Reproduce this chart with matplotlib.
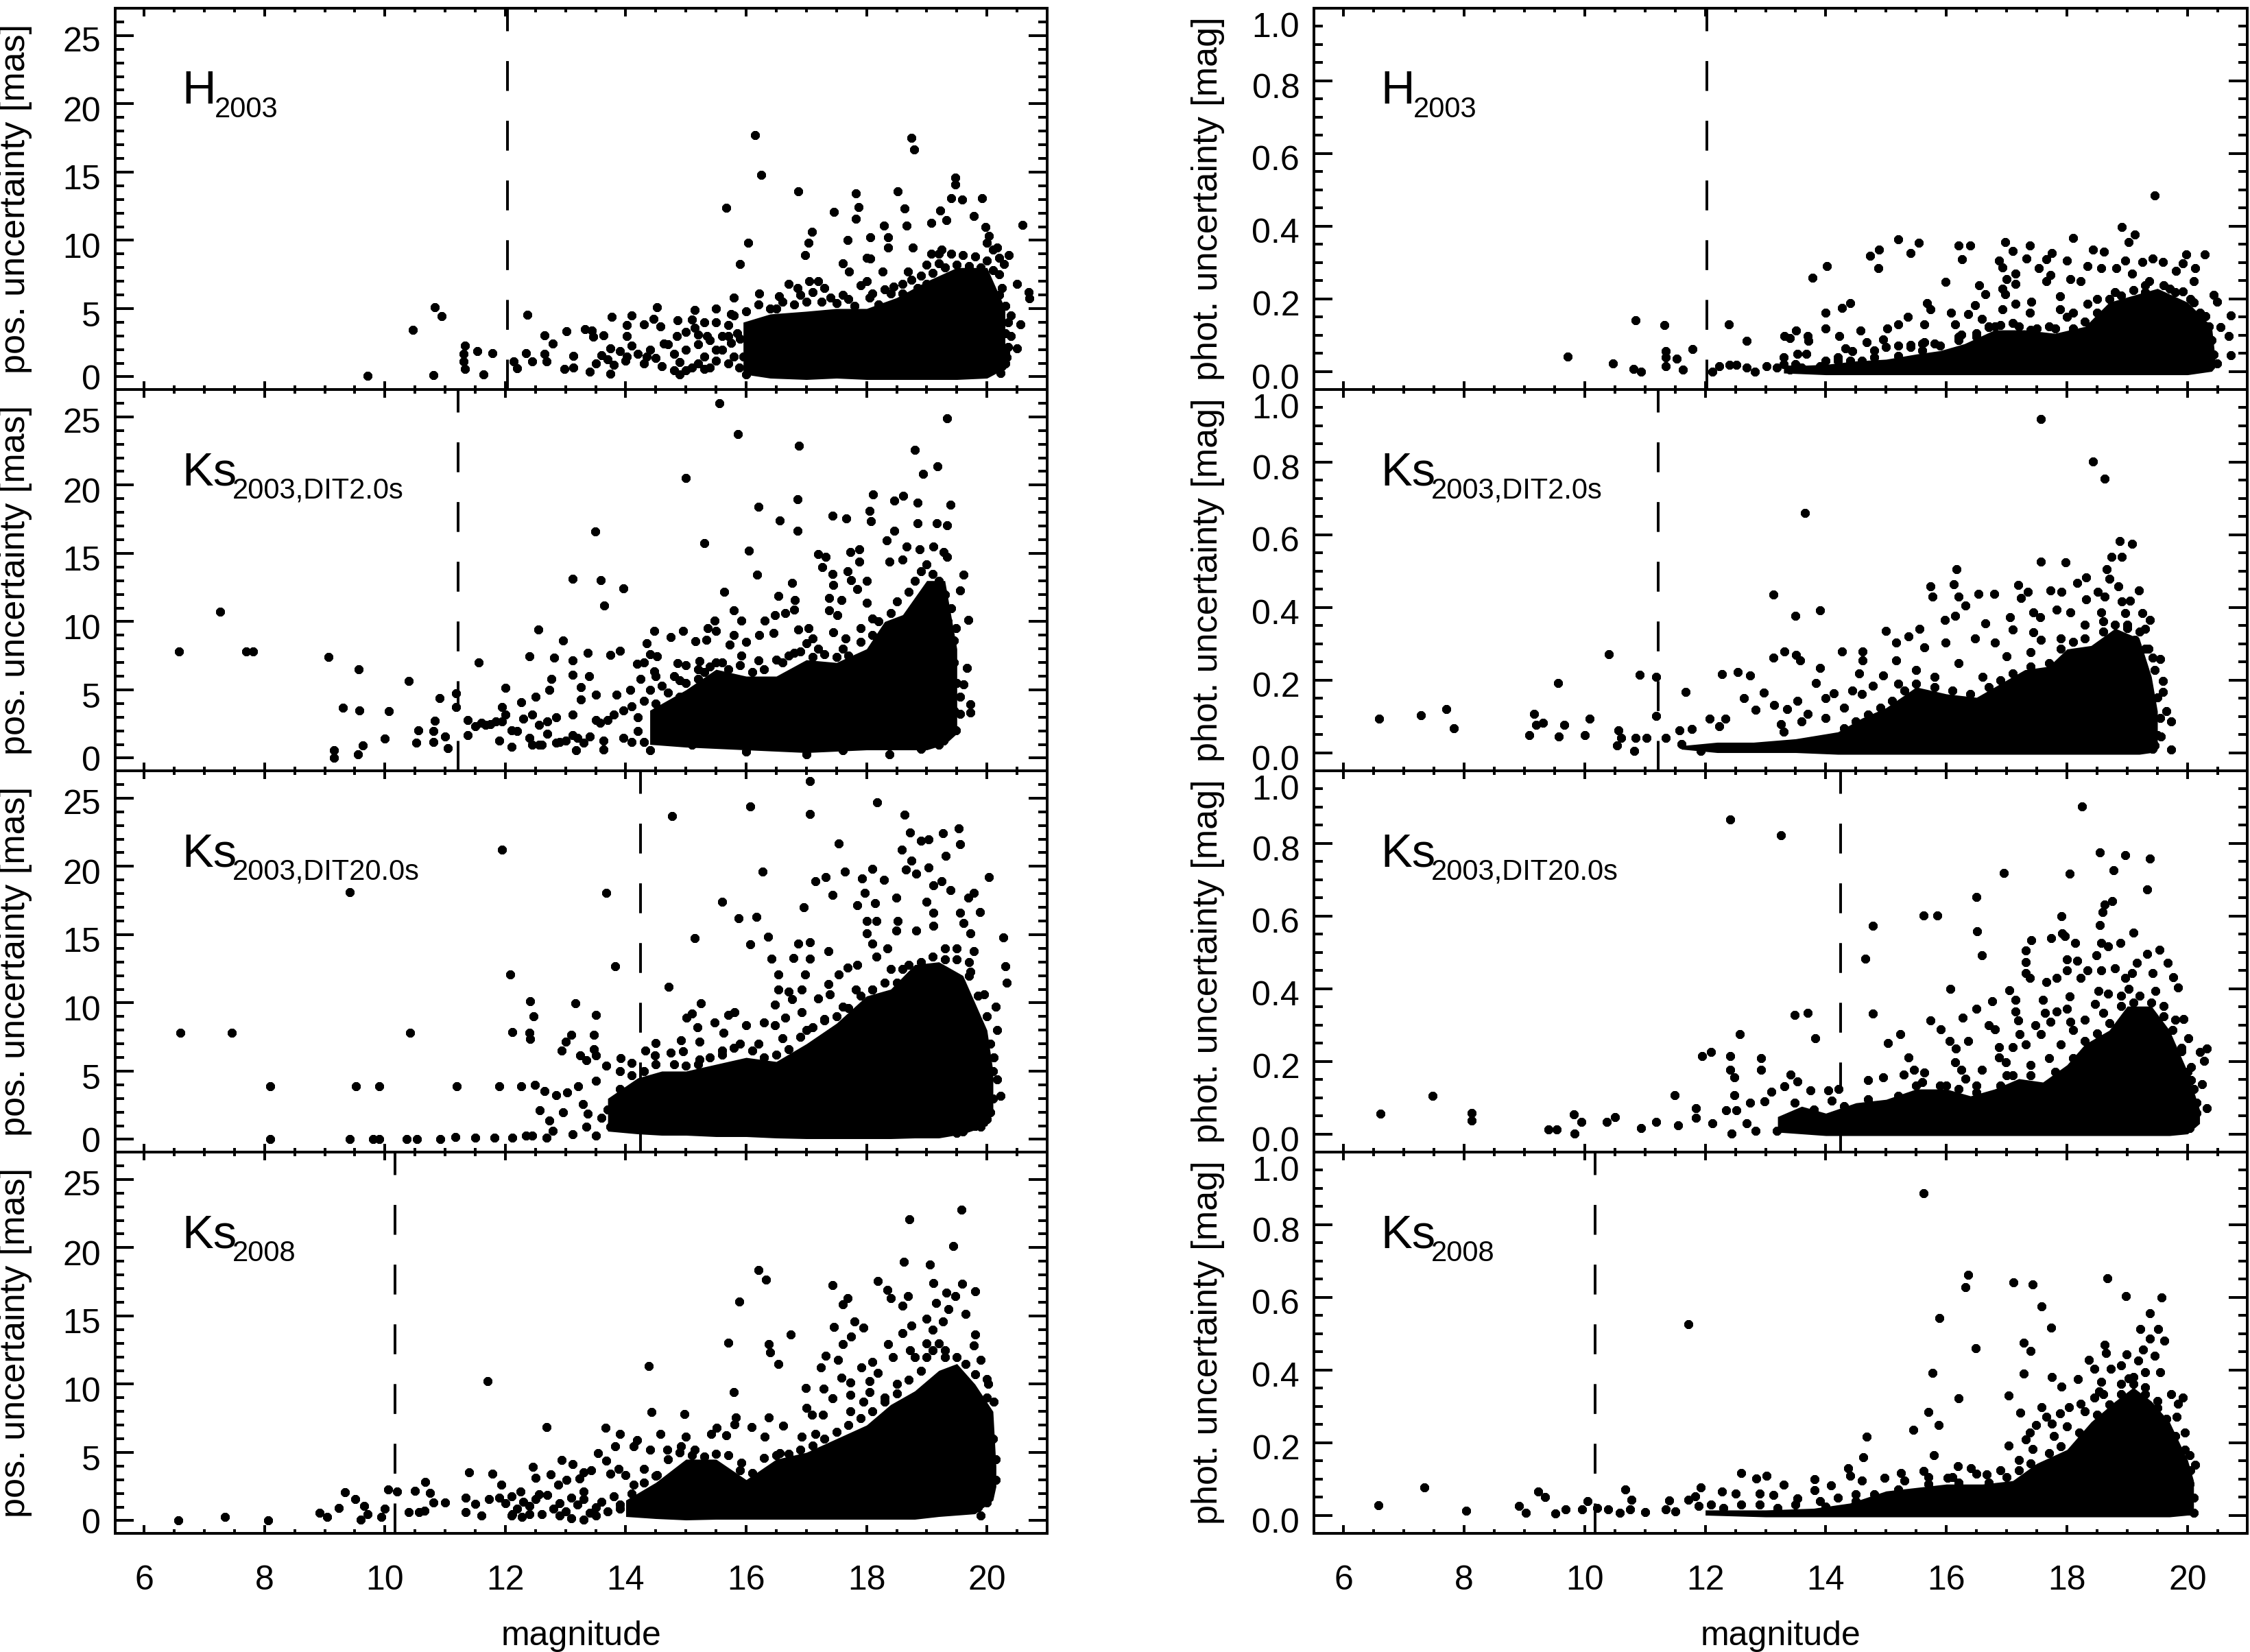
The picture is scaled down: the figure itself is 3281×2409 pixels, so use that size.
import matplotlib
matplotlib.use("Agg")
import matplotlib.pyplot as plt
from matplotlib.ticker import MultipleLocator
from matplotlib.transforms import ScaledTranslation

plt.rcParams['font.family'] = ['Liberation Sans', 'DejaVu Sans']

# Individually readable stars: (magnitude, uncertainty)
h_pos = [(9.71,.07),(10.46,3.45),(10.83,5.08),(10.94,4.46),(10.81,.15),(11.33,2.28),(11.31,1.7),(11.31,1.15),(11.33,.6),(11.53,1.87),(11.64,.17),(11.79,1.75),(12.14,1.15),(12.2,.63),(12.37,4.55),(12.34,1.75),(12.45,1.15),(12.65,1.7),(12.68,1.15),(12.65,3.06),(12.79,2.46),(13.02,3.36),(12.98,.6),(13.13,1.53),(13.13,.69),(13.32,3.49),(13.44,3.4),(13.46,2.93),(13.63,3.02),(13.77,4.37),(14.1,4.52),(13.4,.4),(13.74,.22),(13.74,2.1),(14.02,3.0),(14.02,3.77),(14.3,3.86),(14.52,5.1),(14.46,4.24),(14.58,3.68),(14.35,1.5),(14.02,1.5),(14.63,2.46),(14.9,.2),(14.86,4.15),(15.14,4.9),(15.14,3.6),(15.5,5),(15.75,4.6),(15.8,5.8),(16.22,6.1),(15.67,12.4),(15.9,8.25),(16.03,9.84),(16.15,17.7),(16.25,14.8),(16.86,13.6),(16.98,8.94),(17.04,9.84),(17.09,10.6),(17.46,12.1),(17.69,10.0),(17.6,8.3),(17.71,7.7),(17.82,13.45),(17.87,12.45),(17.82,11.6),(18.0,8.7),(18.06,8.66),(18.06,10.2),(18.29,11.1),(18.36,10.2),(18.36,9.46),(18.27,7.7),(18.52,13.6),(18.63,12.35),(18.67,11.1),(18.69,7.7),(18.74,17.5),(18.79,16.65),(18.77,9.46),(19.08,11.28),(19.22,12.17),(19.33,11.5),(19.07,9),(19.25,9.3),(19.41,13.07),(19.47,14.6),(19.47,14.1),(19.59,13),(19.78,11.8),(19.92,13.1),(19.97,10.96),(20.03,10.3),(20.0,9.84),(20.17,9.46),(20.59,11.15),(20.69,6.2),(20.7,5.73),(20.5,6.8),(20.36,8.9),(20.28,8.25),(20.56,3.86),(20.5,2.1),(20.33,1.44),(20.22,.3),
(13.5,1.0),(13.6,1.6),(13.7,1.3),(13.8,.9),(13.9,1.9),(14,1.2),(14.1,2.3),(14.2,1.7),(14.3,1.0),(14.4,2.0),(14.5,1.4),(14.6,.8),(14.7,2.4),(14.8,1.7),(14.9,1.1),(15,2.0),(15.1,.7),(15.2,2.4),(15.3,1.5),(15.4,.7),(15.5,1.2),(15.6,2),(15.6,3),(15.7,3.8),(15.7,1),(15.75,2.5),(15.8,4.5),(15.8,1.5),(15.85,3.2),(15.2,3.1),(15.3,4),(15.35,3),(15.4,2.7),(15.5,4),(15.1,4.2),(15.0,3.3),(14.85,3.0),
(16.4,5),(16.6,5.5),(16.7,6.8),(16.85,6.5),(16.9,6),(17.05,7),(17.2,7.0),(17.3,6.5),(17.4,5.8),(17.7,5.7),(17.9,6.7),(18.0,7),(18.1,6.1),(18.3,6.4),(18.45,6.6),(18.6,6.8),(18.75,7.1),(18.9,7.4),(19,8.2),(19.2,9),(19.3,8),(19.4,9),(19.6,8.9),(19.8,8.8),(20.0,8.5),(20.1,9.3),(20.2,8.7),(20.2,7.5),(20.25,6.5),(20.4,4.5),(20.4,3),(20.35,2.2),(20.3,1),
(15.2,1),(15.5,2),(15.7,3),(16,4.8),(16.2,5.3),(16.5,5),(16.55,5.9),(16.8,5.3),(17,5.5),(17.1,6.2),(17.25,5.5),(17.5,5.4),(17.6,6),(17.8,5.2),(18.05,5.8),(18.2,5.3),(18.4,6.1),(18.6,6.1),(18.85,6.5),(19,6.8),(19.1,7.6),(19.2,8.3),(19.35,7.2),(19.5,8.2),(19.7,8.1),(19.9,8),(20.1,7.8),(20.2,6),(20.3,5.2),(20.35,4),(20.3,3.2),(20.3,1.8),(20.25,.8),(15.95,1.5),(15.9,2.8),(15.88,.7),(16,.2),(14.8,.5),(15,.5),(15.3,.6)]

ks2_pos = [(6.58,7.8),(7.26,10.73),(7.7,7.8),(7.81,7.8),(9.06,7.43),(9.56,6.5),(10.4,5.67),(9.3,3.7),(9.57,3.5),(10.07,3.45),(9.15,.56),(9.15,.04),(9.55,.28),(9.63,.93),(10,1.44),(10.52,1.12),(10.56,2.05),(10.83,2.76),(10.8,1.96),(10.8,1.2),(11,1.6),(11.05,.75),(10.91,4.38),(11.18,4.76),(11.18,3.73),(11.37,1.68),(11.37,2.8),(11.56,7),(11.5,2.33),(11.67,2.43),(11.84,2.7),(12,5.13),(12.4,7.46),(12.55,9.42),(12.96,8.62),(12.81,7.37),(13.12,7.18),(13.12,13.15),(13.37,7.69),(13.49,16.6),(13.58,13.06),(13.64,11.19),(13.96,12.44),(13.74,7.55),(13.9,7.87),(13.12,6.1),(13.39,6),(12.76,5.78),(12.73,5),(11.95,3.73),(12.26,4.1),(12.5,4.48),(13.26,5.22),(13.5,4.66),(13.26,4.3),(12,3.17),(12.1,2.05),(11.9,1.3),(12.1,.84),(12.45,3.17),(12.56,2.43),(12.56,1),(12.84,3),(12.7,1.77),(12.84,1.12),(13.18,.56),(13.12,1.68),(13.3,1.12),(13.12,3.17),(13.57,2.6),(13.63,1.3),(13.63,.65),(13.96,1.5),(13.96,3.5),(13.85,4.66),(14.07,5),(14.19,6.9),(14.35,8.4),(14.47,9.33),(14.52,7.46),(14.24,5.78),(14.47,6.34),(14.41,.56),(14.75,8.86),(14.86,6.94),(14.95,9.33),(14.9,5.7),(15.16,8.58),(15.23,7.1),(15.34,8.68),(15.36,9.5),(15.48,10.07),(15.5,9.33),(15,20.5),(15.3,15.77),(15.55,26),(15.63,12.16),(15.79,10.82),(15.92,10.07),(15.86,23.73),(16.05,15.17),(16.18,13.43),(16.21,18.41),(16.56,17.4),(16.54,11.9),(16.76,12.84),(16.81,11.57),(16.88,22.9),(16.85,18.97),(16.85,16.64),(16.31,10.07),(16.48,10.45),(16.65,10.6),(16.8,10.9),(15.79,9),(15.73,8.3),(16,8.5),(16.22,9),(16.45,9.18),(15.92,7.5),(16.2,7.18),(16.87,9.42),(17.04,9.5),(17.1,8.77),(17,8.4),(17.2,14.93),(17.32,14.74),(17.26,14),(17.43,13.5),(17.45,12.7),(17.44,17.76),(17.66,17.54),(17.38,11.75),(17.38,10.8),(17.58,11.57),(17.52,10.45),(17.73,15.1),(17.88,15.3),(17.88,14.37),(17.69,13.7),(17.74,13.06),(17.85,12.4),(18,13),(18,11.4),(17.45,9.23),(17.65,8.77),(18.05,18.1),(18.07,17.35),(18.11,19.3),(18.34,15.95),(18.46,16.64),(18.46,18.88),(18.61,19.2),(18.8,22.6),(18.85,18.7),(18.85,17.2),(18.94,20.8),(19.18,21.36),(19.34,24.87),(19.17,17.2),(19.34,17.07),(19.39,18.56),(18.66,15.48),(18.38,14.37),(18.6,14.55),(18.88,15.3),(19.11,15.5),(19.28,15.1),(19.34,14.74),(19.61,13.43),(19.55,12.3),(19.41,11),(19.69,10.1),(19.48,9.5),(19.45,8.6),(19.67,6.6),(19.61,5.4),(19.55,4.5),(19.72,3.92),(19.72,3.36),(19.55,3.26),(19.48,2.05),(19.28,1.3),(18.38,.28),(17.6,.56),
(11.6,2.6),(11.75,2.5),(11.95,2.7),(12.2,2),(12.3,2.9),(12.4,1.5),(12.45,1),(12.6,1),(12.7,2.7),(12.9,1.2),(13,1.3),(13.2,1.5),(13.4,1.6),(13.5,2.8),(13.7,2.8),(13.8,3.2),(14.1,1.2),(14.2,2),(14.3,1.2),(14.1,3.8),(14.2,3),(14.3,4.2),(14.4,5),(14.5,6),(14.6,5.3),(14.7,4.8),(14.8,6),(14.3,7),(14.4,7.6),(15,6.8),(15.2,6.5),(15.6,7),(16.6,7),(16.8,7.7),(17.2,8),(17.6,8),(17.9,9.5),(18.1,10.2),
(14.5,4),(14.6,2.5),(14.7,1.3),(14.8,3.2),(14.9,4.5),(15,5.5),(15.1,1),(15.2,5.8),(15.3,6.3),(15.4,6.7),(15.5,7),(15.7,6.5),(15.9,6.8),(16.1,6.3),(16.3,6.5),(16.5,7.2),(16.7,7.5),(16.9,7.8),(17.1,7.4),(17.3,7.6),(17.5,7.4),(17.7,7.5),(17.9,8.5),(18.1,9),(18.2,10),(18.4,10.6),(18.5,11.5),(18.7,12.2),(18.8,13),(18.9,13.7),(19,14.2),(19.1,13.5),(19.2,13),(19.3,12),(19.35,10),(19.45,7),(19.5,5.5),(19.45,3.5),(19.4,2),(19.2,1),(18.9,.7),(17,.3),(16,.5)]

ks20_pos = [(6.6,7.82),(7.46,7.82),(8.1,3.9),(8.09,0),(9.42,18.1),(9.52,3.9),(9.42,0),(9.8,0),(9.91,0),(9.91,3.9),(10.36,0),(10.53,0),(10.42,7.82),(10.92,0),(11.17,.18),(11.19,3.87),(11.5,.1),(11.82,.1),(11.9,3.9),(11.95,21.2),(12.08,12.1),(12.12,7.88),(12.26,3.87),(12.12,.15),(12.34,.28),(12.45,.28),(12.4,7.82),(12.41,7.36),(12.41,10.1),(12.47,9),(12.49,4),(12.57,2.14),(12.68,.1),(12.65,3.54),(12.73,1.4),(12.84,3.26),(12.93,6.52),(13,7.17),(13.1,7.64),(13.16,9.97),(13.03,3.45),(12.96,1.96),(12.79,.65),(13.12,.37),(13.29,2.6),(13.21,3.9),(13.24,6.15),(13.35,5.78),(13.51,6.15),(13.47,7.64),(13.5,9.13),(13.47,6.6),(13.68,18.07),(13.82,12.67),(13.51,.28),(13.74,.93),(13.51,4.28),(13.68,5.4),(13.92,5.96),(13.9,5),(14.1,5.6),(13.37,1.86),(13.35,.93),(14.33,6.5),(14.5,7.08),(14.49,6.15),(14.75,6.33),(14.95,6.43),(14.92,7.27),(14.71,11.18),(14.77,23.66),(15.15,14.72),(15.01,8.94),(15.1,9.22),(15.25,9.97),(15.19,8.2),(15.23,7.17),(15.23,5.87),(15.47,8.57),(15.6,17.42),(15.62,7.82),(15.7,9.13),(15.81,9.3),(15.87,16.2),(16,8.38),(16.07,24.37),(16.07,14.3),(16.17,16.3),(16.27,19.6),(16.36,14.85),(16.29,8.57),(16.42,13.22),(16.48,9.87),(16.54,12.1),(16.54,11),(16.7,10.8),(16.65,8.94),(16.48,8.38),(16.87,14.34),(16.79,13.3),(16.96,17),(17.06,26.27),(17.06,23.84),(17.06,14.44),(17.06,13.22),(16.98,12.1),(16.92,11),(16.76,10.25),(16.92,9.3),(17.15,18.9),(17.32,19.2),(17.2,10.34),(17.39,10.6),(17.37,11.36),(17.37,13.8),(17.43,17.9),(17.54,21.7),(17.64,19.6),(17.54,12.1),(17.69,12.57),(17.84,12.76),(17.82,11),(17.6,9.7),(17.84,17.14),(17.93,19.1),(17.97,18.07),(18,16),(18,15.1),(18.1,14.34),(18.16,16),(18.14,17.32),(18.09,19.84),(18.16,13.4),(18.18,24.7),(18.29,19),(18.35,14),(18.52,16),(18.49,17.7),(18.58,21.24),(18.49,15.28),(18.63,23.8),(18.65,19.75),(18.72,22.5),(18.74,20.4),(18.83,19.47),(18.9,21.9),(19,17.4),(19.03,22),(19.03,19.9),(19.11,18.6),(18.83,15.28),(19.11,15.65),(19.11,16.58),(19.27,22.45),(19.25,18.9),(19.31,20.77),(19.39,18.25),(19.53,22.76),(19.55,21.6),(19.55,16.58),(19.61,15.84),(19.78,18.07),(19.69,17.7),(19.88,16.67),(19.72,15.1),(19.78,13.8),(19.72,12.3),(19.95,10.6),(20.03,19.2),(20.27,14.8),(20.3,12.67),(20.33,11.46),(20.15,9.7),(20.17,8),(20.11,6),(20.17,4.4),(20.22,3.17),(20.06,1.96),(19.89,.93),(19.5,.47),
(15.6,6.5),(15.9,7),(16.2,7),(16.6,7.4),(17,8),(17.3,8.7),(17.7,8.8),(18.1,11),(18.4,12.5),(18.6,12.5),(19.3,14),(19.5,14),(19.7,13),
(13.6,1.6),(13.7,2.2),(13.9,3.7),(14.1,4.7),(14.3,5),(14.5,5.5),(14.8,5.5),(15,5.4),(15.2,5.5),(15.4,6),(15.6,6.2),(15.8,6.7),(16.1,6.5),(16.3,6),(16.5,6.2),(16.7,6.6),(16.9,7.5),(17.1,8.2),(17.3,8.8),(17.5,9),(17.7,9.6),(17.9,10.5),(18.1,11),(18.3,11.5),(18.5,11.5),(18.7,12.8),(18.9,13),(19.1,13.4),(19.3,13.2),(19.5,13.2),(19.7,12),(19.85,10.5),(20,9),(20.05,7),(20.1,5),(20.1,3),(20,1.5),(19.8,1),(19.6,.6)]

ks08_pos = [(6.57,0),(7.34,.28),(8.06,0),(8.92,.56),(9.04,.28),(9.23,.94),(9.34,2.1),(9.51,1.57),(9.66,1.1),(9.6,.05),(9.71,.5),(9.94,.28),(10,.87),(10.05,2.27),(10.2,2.15),(10.4,.63),(10.5,2.2),(10.57,.63),(10.66,.75),(10.67,2.86),(10.75,2.04),(10.8,1.33),(11,1.33),(11.34,1.69),(11.34,.63),(11.4,3.56),(11.5,1.22),(11.6,.4),(11.71,10.2),(11.78,3.44),(11.73,1.57),(11.93,2.62),(12.12,.5),(12.25,2.15),(12.28,.28),(12.46,3.96),(12.5,3.14),(12.56,1.92),(12.69,6.84),(12.75,3.37),(12.93,4.43),(12.88,2.62),(13.02,3),(13.12,4.15),(13.23,3.1),(13.3,3.56),(13.43,3.68),(13.3,2.15),(13.3,.05),(13.1,.16),(13.54,4.96),(13.67,6.8),(13.68,4.38),(13.74,3.44),(13.82,5.43),(13.9,6.37),(13.88,3.8),(14,3.33),(14.13,5.43),(14.19,5.9),(14.38,11.33),(14.43,7.96),(14.41,5.2),(14.58,6.37),(14.3,3.8),(14.52,3.33),(14.13,2.62),(14.97,7.82),(15,6.14),(14.69,5.2),(14.92,5.43),(15.14,5.2),(15.42,6.37),(15.51,6.8),(15.67,6.25),(15.7,13.04),(15.8,9.41),(15.89,16.04),(15.83,7.54),(15.81,7.07),(16.09,6.84),(15.92,4.26),(16.2,18.38),(16.33,17.68),(16.37,12.93),(16.4,12.34),(16.38,7.54),(16.31,6.14),(16.54,11.47),(16.62,6.96),(16.56,4.96),(16.74,13.63),(16.92,6.14),(16.99,9.7),(17,8.24),(17.09,7.78),(17.15,6.37),(17.24,11.22),(17.32,12.06),(17.29,9.65),(17.27,7.78),(17.43,8.95),(17.44,17.26),(17.46,14.2),(17.53,11.8),(17.6,15.85),(17.68,16.32),(17.61,12.93),(17.74,13.5),(17.8,14.57),(17.95,14.15),(17.58,10.47),(17.73,10.1),(17.73,9.2),(17.73,8),(17.91,11.24),(17.95,8.7),(18.1,11.64),(18.05,10.23),(18.05,9.4),(18.19,17.54),(18.19,10.8),(18.35,16.9),(18.4,16.3),(18.36,12.93),(18.44,12),(18.6,15.73),(18.6,13.75),(18.62,18.97),(18.71,22.06),(18.69,16.44),(18.75,14.29),(18.72,12.46),(19.05,18.78),(19.11,17.42),(19.16,15.97),(19.33,16.72),(19.44,20.14),(19.47,16.44),(19.58,22.8),(19.59,17.38),(19.8,16.79),(19.64,15.15),(19.36,15.5),(19.27,14.57),(19,14.8),(19.8,13.63),(19.78,12.81),(19.89,11.76),(20,10.35),(20.02,10),(20.11,8.71),(20.15,4.5),(20.06,2.62),(20,1.33),(19.89,.4),
(11.9,1.7),(12,1.3),(12.1,1.8),(12.2,.9),(12.3,1.4),(12.4,1.1),(12.5,1.6),(12.6,.5),(12.7,1.9),(12.8,.9),(12.9,1.3),(13,.7),(13.1,1.7),(13.2,1.2),(13.3,1.6),(13.4,.6),(13.5,1),(13.6,1.4),(13.7,.7),(13.8,1.8),(13.9,.9),(12.1,.4),(12.4,.5),(12.9,.4),(13.5,.4),(18.8,12),(19,13),(19.1,14),(19.2,13),(18.5,10),(18.3,9),(19.3,12.5),
(13.9,1.2),(14.1,2),(14.3,2.8),(14.5,3.3),(14.7,4.5),(14.9,5),(15.1,4.8),(15.3,4.7),(15.5,4.9),(15.7,4.8),(15.9,3.7),(16.1,3.5),(16.3,4.6),(16.5,4.8),(16.7,4.9),(16.9,5.2),(17.1,5.5),(17.3,6),(17.5,6.5),(17.7,7),(17.9,7.5),(18.1,8),(18.3,8.7),(18.5,9.3),(18.7,10.3),(18.9,11),(19,12),(19.1,12.5),(19.3,12),(19.5,12),(19.65,11.5),(19.8,10.7),(20,9),(20.1,6),(20.15,3),(20,2),(19.85,1)]

# Photometric readings were taken against a provisional vertical scale;
# PHOT_READING_CAL turns them into magnitudes on the real axis (0.2 mag = 286 zoomed px, not 272).
PHOT_READING_CAL = 0.951

h_phot = [(9.72,.042),(10.47,.022),(10.81,.007),(10.93,0),(10.84,.147),(11.32,.135),(11.34,.059),(11.34,.04),(11.34,.015),(11.53,.037),(11.63,.005),(11.79,.064),(12.39,.136),(12.69,.088),(12.12,0),(12.23,.015),(12.4,.018),(12.52,.018),(12.69,.011),(12.82,0),(13.02,.015),(13.19,.011),(13.31,.103),(13.4,.096),(13.51,.118),(13.7,.103),(13.71,.088),(13.53,.051),(13.68,.051),(13.78,.272),(14.02,.305),(13.99,.125),(13.99,.169),(14.22,.103),(14.27,.184),(14.41,.198),(14.33,.066),(14.44,.059),(14.57,.118),(14.68,.085),(14.73,.335),(14.88,.353),(14.87,.299),(15.02,.125),(14.95,.092),(15.2,.382),(15.4,.343),(15.54,.373),(15.2,.136),(15.36,.158),(15.63,.136),(15.68,.198),(15.74,.18),(15.4,.077),(15.63,.085),(15.98,.26),(16.08,.169),(16.14,.136),(16.2,.364),(16.4,.364),(16.26,.325),(16.54,.25),(16.64,.224),(16.48,.191),(16.36,.165),(16.25,.107),(16.59,.151),(16.7,.129),(16.98,.375),(17.1,.349),(17.38,.364),(17.33,.327),(16.87,.32),(16.93,.301),(17.15,.283),(17,.268),(16.93,.239),(16.98,.224),(17.15,.254),(16.93,.18),(17.15,.195),(17.41,.202),(17.38,.169),(17.53,.298),(17.75,.342),(17.66,.324),(17.72,.279),(17.66,.261),(17.89,.217),(18,.32),(18.06,.268),(18.23,.261),(18.1,.387),(18.43,.353),(18.61,.346),(18.34,.305),(18.57,.298),(17.89,.18),(18,.158),(18.34,.195),(18.91,.419),(19.02,.375),(19.13,.397),(18.82,.298),(18.97,.32),(19.25,.316),(19.42,.327),(19.59,.316),(19.46,.509),(19.81,.29),(19.98,.338),(20.29,.338),(20.13,.298),(19.92,.312),(20.1,.261),(19.92,.232),(19.36,.261),(19.08,.283),(20.43,.221),(20.49,.202),(20.72,.162),(20.55,.129),(20.68,.103),(20.72,.046),(20.43,.048),(20.49,.022),
(13.3,.02),(13.4,.005),(13.5,.02),(13.6,.01),(13.8,.005),(13.9,.015),(14.0,.03),(14.2,.04),(14.4,.03),(14.8,.06),(15,.07),(15.2,.075),(15.4,.07),(15.6,.08),(15.8,.08),(14.6,.03),(13.3,.04),(16.2,.1),(16.5,.11),(16.8,.13),(17.1,.14),(17.4,.12),(17.7,.13),(18.1,.17),(18.5,.21),(18.8,.23),(19.3,.23),(19.7,.24),(20.1,.2),(20.3,.16),
(14.2,.03),(14.8,.04),(15.2,.045),(15.6,.06),(15.9,.075),(16.2,.09),(16.5,.1),(16.7,.13),(16.9,.135),(17.2,.13),(17.5,.125),(17.8,.125),(18.1,.125),(18.3,.145),(18.5,.17),(18.7,.21),(18.9,.22),(19.1,.235),(19.3,.25),(19.6,.25),(19.8,.23),(20.05,.21),(20.2,.17),(20.35,.13),(20.4,.09),(20.35,.05),(20.3,.02)]

ks2_phot = [(6.59,.098),(7.28,.109),(7.71,.127),(7.83,.07),(9.08,.05),(9.16,.113),(9.2,.08),(9.31,.087),(9.56,.201),(9.66,.08),(9.57,.046),(10,.05),(10.08,.098),(10.4,.286),(10.56,.065),(10.54,.02),(10.6,.043),(10.82,.006),(10.84,.043),(11.03,.043),(10.91,.225),(11.18,.219),(11.19,.107),(11.35,.043),(11.57,.065),(11.68,.175),(11.61,.024),(11.78,.068),(11.92,.006),(12.07,.099),(12.28,.227),(12.54,.234),(12.74,.223),(12.34,.098),(12.64,.158),(12.97,.173),(12.83,.124),(12.23,.076),(13.13,.457),(13.13,.275),(13.31,.293),(13.51,.284),(13.57,.267),(13.5,.396),(13.65,.694),(13.9,.412),(13.9,.245),(13.84,.201),(13.53,.149),(13.14,.138),(13.36,.127),(13.7,.113),(13.25,.083),(13.99,.157),(14.13,.172),(14.44,.179),(14.27,.293),(14.61,.293),(14.61,.267),(14.55,.23),(14.95,.223),(14.78,.194),(15,.352),(15.17,.319),(15.37,.337),(15.55,.359),(15.17,.267),(15.63,.304),(15.74,.481),(15.77,.451),(15.99,.319),(15.97,.385),(16.14,.396),(16.12,.488),(16.17,.531),(16.2,.451),(16.31,.426),(16.53,.46),(16.79,.46),(16.48,.33),(16.64,.374),(16.81,.319),(17.06,.392),(17.19,.485),(17.35,.466),(17.24,.448),(17.1,.356),(17.57,.554),(17.98,.552),(17.72,.47),(17.91,.465),(17.44,.407),(17.55,.392),(17.83,.415),(18.06,.407),(17.44,.348),(17.57,.326),(18.17,.492),(18.32,.507),(18.32,.444),(18.43,.843),(18.62,.794),(17.57,.967),(18.66,.532),(18.7,.503),(18.74,.566),(18.91,.566),(18.87,.613),(19.08,.604),(18.51,.466),(18.85,.481),(18.62,.451),(18.91,.437),(19.05,.44),(19.19,.47),(18.57,.407),(18.96,.404),(19.25,.404),(19.38,.385),(19.3,.359),(19.13,.326),(19.55,.271),(19.42,.275),(19.59,.208),(19.59,.175),(19.65,.12),(19.73,.09),(19.56,.046),(19.73,.008),(19.42,.01),
(13.3,.06),(13.6,.09),(14,.1),(14.3,.13),(14.6,.17),(15.2,.2),(15.5,.24),(15.8,.22),(16.2,.26),(16.6,.22),(17,.28),(17.4,.29),(17.9,.33),(18.3,.37),(18.6,.38),(19,.37),(19.3,.3),
(14.3,.07),(14.5,.09),(14.7,.11),(14.9,.13),(15.1,.15),(15.3,.18),(15.5,.2),(15.8,.19),(16.1,.18),(16.4,.17),(16.7,.19),(16.9,.21),(17.1,.23),(17.4,.25),(17.7,.26),(17.9,.3),(18.1,.32),(18.3,.33),(18.6,.35),(18.8,.37),(19,.36),(19.2,.35),(19.35,.3),(19.45,.24),(19.5,.16),(19.55,.1),(19.5,.05),(19.45,.02)]

ks20_phot = [(6.61,.059),(7.48,.11),(8.13,.06),(8.13,.038),(9.4,.013),(9.54,.013),(9.83,.001),(9.82,.057),(9.95,.035),(10.37,.035),(10.5,.049),(10.93,.016),(11.18,.035),(11.49,.112),(11.55,.024),(11.84,.075),(11.84,.046),(11.95,.226),(12.09,.237),(12.12,.031),(12.35,.068),(12.41,.911),(12.41,.226),(12.41,.186),(12.48,.163),(12.48,.112),(12.44,.001),(12.57,.289),(12.52,.068),(12.69,.031),(12.74,.09),(12.83,.009),(12.93,.219),(12.93,.186),(12.98,.094),(13.1,.123),(13.25,.865),(13.31,.138),(13.42,.171),(13.48,.344),(13.53,.152),(13.7,.351),(13.74,.127),(13.83,.278),(13.19,.009),(13.48,.09),(14.04,.127),(14.21,.13),(14.1,.097),(14.7,.156),(14.65,.508),(14.78,.602),(14.78,.348),(14.95,.163),(15.03,.263),(15.24,.289),(15.37,.222),(15.29,.171),(15.46,.186),(15.63,.178),(15.62,.633),(15.85,.633),(15.74,.329),(15.91,.303),(16.07,.421),(16.05,.27),(16.16,.248),(16.36,.27),(16.27,.337),(16.14,.208),(16.25,.186),(16.31,.16),(16.5,.686),(16.51,.587),(16.5,.362),(16.59,.518),(16.76,.384),(16.7,.314),(16.81,.303),(16.87,.252),(16.87,.222),(16.59,.186),(16.95,.756),(17.04,.417),(17.15,.388),(17.15,.355),(17.19,.329),(17.21,.289),(17.1,.252),(16.99,.208),(17.32,.465),(17.32,.498),(17.32,.532),(17.41,.561),(17.38,.451),(17.6,.388),(17.63,.351),(17.47,.314),(17.57,.289),(17.32,.259),(17.72,.325),(17.83,.355),(17.66,.44),(17.74,.567),(17.92,.58),(17.96,.572),(17.83,.451),(17.91,.631),(18.13,.554),(18.04,.753),(18,.506),(18.04,.399),(18,.473),(18.17,.502),(18.25,.948),(18.34,.473),(18.23,.451),(18.55,.815),(18.77,.764),(18.97,.808),(19.38,.798),(19.33,.708),(18.75,.675),(18.62,.664),(18.59,.642),(18.55,.605),(19.1,.582),(18.57,.554),(18.89,.554),(18.68,.543),(18.49,.517),(19.53,.533),(19.33,.521),(19.16,.495),(19.67,.495),(18.57,.473),(18.79,.48),(19.08,.465),(19.42,.465),(19.76,.454),(19.84,.425),(18.97,.451),(18.52,.414),(18.68,.406),(19.02,.421),(19.47,.414),(18,.362),(18.46,.377),(18.06,.325),(19.93,.333),(20.01,.278),(20.32,.248),(20.21,.237),(20.27,.211),(20.06,.193),(20.24,.145),(20.06,.156),(20.32,.075),(20.15,.06),(20.04,.016),
(17.4,.2),(17.7,.22),(17.9,.26),(18.1,.3),(18.3,.33),(18.6,.35),(18.9,.4),(19.2,.4),(19.6,.37),(19.8,.33),(19.9,.25),(15.6,.15),(16,.14),(16.5,.14),(17,.17),
(13.8,.07),(14.3,.08),(14.7,.1),(15.2,.11),(15.5,.14),(15.9,.14),(16.2,.13),(16.5,.12),(16.9,.14),(17.1,.17),(17.4,.17),(17.8,.18),(18.1,.22),(18.3,.27),(18.5,.29),(18.7,.32),(18.9,.37),(19.1,.38),(19.4,.38),(19.6,.34),(19.75,.3),(19.9,.24),(20,.18),(20.1,.13),(20.15,.09)]

ks08_phot = [(6.58,.029),(7.34,.081),(8.04,.012),(8.91,.026),(9.03,.007),(9.23,.068),(9.34,.052),(9.51,.006),(9.68,.017),(9.96,.017),(10.05,.04),(10.21,.021),(10.39,.017),(10.58,.007),(10.67,.074),(10.78,.044),(10.75,.017),(11,.009),(11.34,.017),(11.4,.043),(11.72,.044),(11.72,.553),(11.93,.08),(11.83,.054),(11.89,.026),(12.28,.068),(12.51,.063),(12.6,.123),(12.85,.106),(13.02,.114),(12.9,.063),(13.13,.058),(13.3,.089),(13.53,.049),(13.81,.105),(13.81,.072),(14.09,.086),(14.37,.137),(14.41,.114),(14.62,.167),(14.68,.228),(14.6,.1),(14.97,.109),(15.25,.123),(15.45,.248),(15.7,.299),(15.62,.932),(15.77,.412),(15.88,.57),(15.87,.262),(15.79,.174),(15.62,.128),(16.02,.109),(16.2,.339),(16.19,.142),(16.36,.697),(16.32,.66),(16.49,.484),(16.41,.137),(16.67,.118),(17.03,.347),(17.03,.202),(17.11,.675),(17.23,.297),(17.28,.5),(17.28,.41),(17.4,.475),(17.43,.669),(17.58,.604),(17.74,.544),(17.58,.313),(17.38,.239),(17.32,.22),(17.43,.192),(17.66,.285),(17.49,.262),(17.75,.401),(17.91,.373),(17.75,.266),(17.78,.229),(17.89,.294),(18.03,.313),(18.18,.394),(18.36,.45),(18.45,.424),(18,.257),(18.23,.322),(18.45,.34),(18.57,.387),(18.53,.359),(18.62,.493),(18.65,.47),(18.67,.687),(18.73,.424),(18.9,.433),(18.98,.635),(18.99,.465),(19.18,.447),(19.26,.479),(19.22,.539),(19.38,.585),(19.45,.461),(19.51,.539),(19.57,.63),(19.38,.511),(19.61,.505),(19.54,.414),(19.3,.414),(19.02,.396),(19.73,.35),(19.92,.34),(19.84,.322),(19.95,.239),(19.82,.285),(20.03,.174),(20.12,.146),(20.1,.007),(20.03,.09),
(11.5,.01),(12.1,.03),(12.3,.02),(12.6,.03),(12.9,.03),(13.2,.02),(13.5,.03),(13.9,.04),(14.2,.05),(14.5,.06),(15.3,.1),(15.7,.11),(16.1,.11),(16.5,.12),(16.9,.13),(17.2,.16),(18.3,.3),(18.6,.35),(18.9,.38),(19.1,.4),(19.3,.37),(19.5,.33),
(14,.025),(14.5,.04),(14.8,.06),(15.2,.075),(15.7,.09),(16.2,.095),(16.7,.095),(17,.11),(17.2,.13),(17.4,.15),(17.7,.18),(17.9,.2),(18.2,.24),(18.5,.29),(18.7,.32),(18.9,.35),(19.1,.38),(19.3,.35),(19.5,.31),(19.65,.28),(19.8,.23),(19.95,.19),(20.05,.13),(20.1,.05)]

# Saturated part of each cloud, where single stars cannot be told apart: (magnitude, lower edge, upper edge)
h_pos_mass = [(15.95,.2,4),(16.4,-.1,4.6),(17,-.2,4.8),(17.5,-.1,5),(18,-.2,5),(18.5,-.2,5.8),(19,-.2,7),(19.5,-.2,8),(20,-.1,8),(20.3,.6,5)]
ks2_pos_mass = [(14.4,1,3.5),(15,.8,5),(15.5,.7,6.5),(16,.6,6),(16.5,.5,6),(17,.4,7.2),(17.5,.5,7),(18,.6,8),(18.3,.6,10),(18.6,.6,10.5),(19,.6,13),(19.3,1,13),(19.5,1.8,8)]
ks20_pos_mass = [(13.7,.6,3),(14.2,.4,4.5),(14.6,.3,5),(15,.3,5),(15.5,.2,5.5),(16,.2,6),(16.5,.1,5.7),(17,.05,7),(17.5,.05,8.5),(18,.05,10.5),(18.4,.05,11),(18.8,.1,12.8),(19.2,.1,13),(19.6,.4,12),(20,1,8),(20.1,2,5)]
ks08_pos_mass = [(14,.3,1.5),(14.5,.15,2.8),(15,.05,4.5),(15.5,.1,4.5),(16,.1,3),(16.5,.1,4.5),(17,.1,5),(17.5,.1,6),(18,.1,7),(18.4,.1,8.5),(18.8,.1,9.5),(19.2,.3,11),(19.5,.4,11.5),(19.8,.5,10),(20.1,1.5,8),(20.15,2.5,4)]
h_phot_mass = [(13.3,-.005,.015),(14,-.01,.02),(14.5,-.01,.03),(15,-.01,.035),(15.5,-.01,.05),(15.9,-.01,.06),(16.3,-.01,.08),(16.8,-.01,.12),(17.3,-.01,.12),(17.8,-.01,.11),(18.3,-.01,.13),(18.7,-.01,.2),(19.1,-.01,.22),(19.5,-.01,.24),(20,-.01,.2),(20.4,.0,.13),(20.45,.01,.05)]
ks2_phot_mass = [(11.6,.01,.02),(12.2,.0,.03),(12.8,.0,.03),(13.5,.0,.04),(14.2,-.005,.06),(14.6,-.005,.1),(15,-.005,.13),(15.5,-.005,.19),(16,-.005,.17),(16.5,-.005,.16),(16.9,-.005,.2),(17.3,-.005,.24),(17.7,-.005,.25),(18,-.005,.3),(18.4,-.005,.31),(18.8,-.005,.36),(19.2,-.005,.33),(19.4,.0,.22),(19.5,.01,.12)]
ks20_phot_mass = [(13.2,.005,.05),(13.6,.0,.08),(14,-.005,.06),(14.5,-.005,.09),(15,-.005,.1),(15.5,-.005,.13),(16,-.005,.13),(16.4,-.005,.11),(16.8,-.005,.13),(17.2,-.005,.16),(17.6,-.005,.15),(18,-.005,.2),(18.3,-.005,.26),(18.7,-.005,.3),(19,-.005,.37),(19.4,-.005,.37),(19.7,-.005,.3),(20,.0,.18),(20.2,.03,.07)]
ks08_phot_mass = [(12,.0,.015),(13,-.005,.015),(13.8,-.005,.02),(14.4,-.005,.035),(15,-.005,.07),(15.5,-.005,.08),(16,-.005,.09),(16.6,-.005,.09),(17.1,-.005,.1),(17.5,-.005,.15),(18,-.005,.19),(18.4,-.005,.27),(18.8,-.005,.33),(19.1,-.005,.37),(19.4,-.005,.33),(19.7,-.005,.27),(20,.0,.16),(20.1,.0,.1)]

band_main = ['H', 'Ks', 'Ks', 'Ks']
band_sub = ['2003', '2003,DIT2.0s', '2003,DIT20.0s', '2008']
saturation_mag = [12.03, 11.22, 14.25, 10.17]
pos_ticks = [0, 5, 10, 15, 20, 25]
phot_ticks = [0.0, 0.2, 0.4, 0.6, 0.8, 1.0]
pos_series = [h_pos, ks2_pos, ks20_pos, ks08_pos]
phot_series = [h_phot, ks2_phot, ks20_phot, ks08_phot]
pos_masses = [h_pos_mass, ks2_pos_mass, ks20_pos_mass, ks08_pos_mass]
phot_masses = [h_phot_mass, ks2_phot_mass, ks20_phot_mass, ks08_phot_mass]

W, H = 3281, 2409
DPI = 300
fig = plt.figure(figsize=(W / DPI, H / DPI), dpi=DPI, facecolor='white')
PANEL_TOP = [12, 568, 1124, 1680]
PANEL_H = 556
LINE = 0.95


def panel(col_left, col_width, row, pts, mass, ylim, xlim, yticks, ymin, yfmt, label_drop, ylabel, label_x, cal=1.0):
    ax = fig.add_axes([col_left / W, 1 - (PANEL_TOP[row] + PANEL_H) / H, col_width / W, PANEL_H / H])
    mx, lo, hi = zip(*mass)
    ax.fill_between(mx, [v * cal for v in lo], [v * cal for v in hi], color='black', linewidth=0, zorder=2)
    xs, ys = zip(*pts)
    ax.plot(xs, [v * cal for v in ys], linestyle='none', marker=(8, 2, 0), markersize=3.0, markeredgewidth=1.05,
            color='black', zorder=3)
    ax.plot([saturation_mag[row]] * 2, ylim, color='black', linewidth=0.95, dashes=(11, 11), zorder=4)
    ax.set_xlim(*xlim)
    ax.set_ylim(*ylim)
    ax.xaxis.set_major_locator(MultipleLocator(2))
    ax.xaxis.set_minor_locator(MultipleLocator(0.5))
    ax.set_yticks(yticks)
    ax.set_yticklabels([yfmt % t for t in yticks])
    ax.yaxis.set_minor_locator(MultipleLocator(ymin))
    ax.tick_params(axis='both', which='both', direction='in', top=True, right=True, width=LINE)
    ax.tick_params(axis='x', which='major', length=2.9)
    ax.tick_params(axis='x', which='minor', length=1.4)
    ax.tick_params(axis='y', which='major', length=6.5, pad=5)
    ax.tick_params(axis='y', which='minor', length=3.1)
    ax.tick_params(axis='both', which='major', labelsize=12)
    ax.tick_params(axis='x', which='major', pad=11, labelbottom=(row == 3))
    # labels sit a little below their ticks in the reference, the top one of the right column well below
    for tick, drop in zip(ax.yaxis.get_major_ticks(), label_drop):
        off = ScaledTranslation(0, -drop / DPI, fig.dpi_scale_trans)
        tick.label1.set_transform(tick.label1.get_transform() + off)
    for s in ax.spines.values():
        s.set_linewidth(LINE)
    ax.set_ylabel(ylabel, fontsize=12.5)
    ax.yaxis.set_label_coords(label_x, 0.5)
    if row == 3:
        ax.set_xlabel('magnitude', fontsize=12)
        ax.xaxis.set_label_coords(0.5, -0.228)
    px = 97 / col_width
    base = 1 - 139 / PANEL_H
    sub_base = 1 - 159 / PANEL_H
    shift = (48 if band_main[row] == 'H' else 74) / col_width
    ax.text(px, base, band_main[row], transform=ax.transAxes, fontsize=16.5, va='baseline', ha='left')
    ax.text(px + shift, sub_base, band_sub[row], transform=ax.transAxes, fontsize=10, va='baseline', ha='left')
    return ax


for r in range(4):
    panel(168, 1359, r, pos_series[r], pos_masses[r], (-0.93, 27.0), (5.52, 21.0), pos_ticks, 1, '%d',
          [1, 8, 8, 7, 8, 5], 'pos. uncertainty [mas]', -0.089)
    panel(1916, 1361, r, phot_series[r], phot_masses[r], (-0.05, 1.0), (5.51, 20.99), phot_ticks, 0.05, '%.1f',
          [7, 6, 6, 6, 7, 24], 'phot. uncertainty [mag]', -0.0955, cal=PHOT_READING_CAL)

fig.savefig('out.png', dpi=DPI, facecolor='white')
